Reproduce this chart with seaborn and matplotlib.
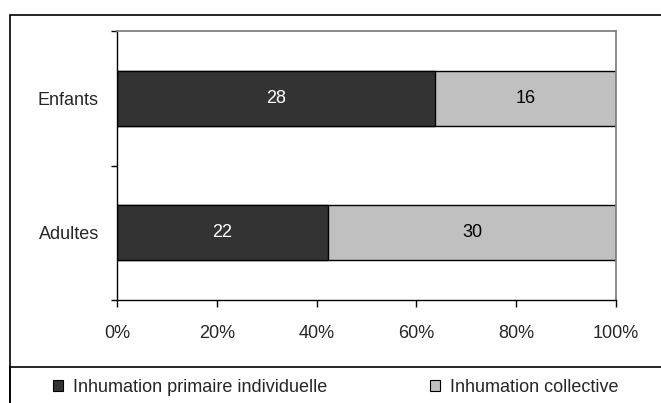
import pandas as pd
import matplotlib.pyplot as plt
import seaborn as sns
from matplotlib.patches import Rectangle, Patch

# Données
groupes = ["Enfants", "Adultes"]
individuelle = [28, 22]
collective = [16, 30]
series = ["Inhumation primaire individuelle", "Inhumation collective"]
couleurs = ["#333333", "#c0c0c0"]
xticks = [0, 20, 40, 60, 80, 100]

df = pd.DataFrame({"groupe": groupes, "indiv": individuelle, "coll": collective})
df["total"] = df["indiv"] + df["coll"]
df["pct_indiv"] = df["indiv"] / df["total"] * 100
df["pct_total"] = 100.0

sns.set_style("white")
plt.rcParams["font.family"] = ["Liberation Sans", "DejaVu Sans"]
fs = 13

W, H = 661, 403
fig = plt.figure(figsize=(W / 100, H / 100), dpi=100)
ax = fig.add_axes([117 / W, (H - 300) / H, 499 / W, 269 / H])

# barres empilées à 100 %
sns.barplot(data=df, x="pct_total", y="groupe", order=groupes, color=couleurs[1],
            width=0.41, edgecolor="black", linewidth=1, ax=ax, saturation=1)
sns.barplot(data=df, x="pct_indiv", y="groupe", order=groupes, color=couleurs[0],
            width=0.41, edgecolor="black", linewidth=1, ax=ax, saturation=1)

ax.set_xlim(0, 100)
ax.set_ylim(1.5, -0.5)
ax.set_xlabel("")
ax.set_ylabel("")

# étiquettes de valeurs
for i, row in df.iterrows():
    ax.text(row["pct_indiv"] / 2, i, str(row["indiv"]), color="white",
            ha="center", va="center", fontsize=fs)
    ax.text((row["pct_indiv"] + 100) / 2, i, str(row["coll"]), color="black",
            ha="center", va="center", fontsize=fs)

ax.set_xticks(xticks)
ax.set_xticklabels([f"{t}%" for t in xticks], fontsize=fs)
ax.tick_params(axis="x", bottom=True, direction="out", length=5, width=1,
               color="black", pad=13)
ax.set_yticks([0, 1])
ax.set_yticklabels(groupes, fontsize=fs)
ax.tick_params(axis="y", which="major", left=True, length=0, pad=13)
ax.set_yticks([1.5, 0.5, -0.5], minor=True)
ax.tick_params(axis="y", which="minor", left=True, direction="out", length=4.5,
               width=1, color="black")

for s in ["left", "bottom"]:
    ax.spines[s].set_color("black")
    ax.spines[s].set_linewidth(1)
for s in ["top", "right"]:
    ax.spines[s].set_color("#808080")
    ax.spines[s].set_linewidth(1.3)

# cadres
fig.patches.append(Rectangle((10 / W, -0.1), 1.2, (H - 15) / H + 0.1, transform=fig.transFigure,
                             fill=False, edgecolor="black", linewidth=1.2))
fig.patches.append(Rectangle((10 / W, -0.1), 1.2, (H - 367) / H + 0.1, transform=fig.transFigure,
                             fill=False, edgecolor="black", linewidth=1.2))

handles = [Patch(facecolor=c, edgecolor="black", linewidth=0.8) for c in couleurs]
leg = fig.legend(handles, series, loc="center left", bbox_to_anchor=(53 / W, (H - 387) / H),
                 ncol=2, frameon=False, fontsize=fs, handlelength=0.55, handleheight=0.55,
                 handletextpad=0.55, columnspacing=5.7, borderaxespad=0, borderpad=0)

fig.savefig("out.png", dpi=100)
